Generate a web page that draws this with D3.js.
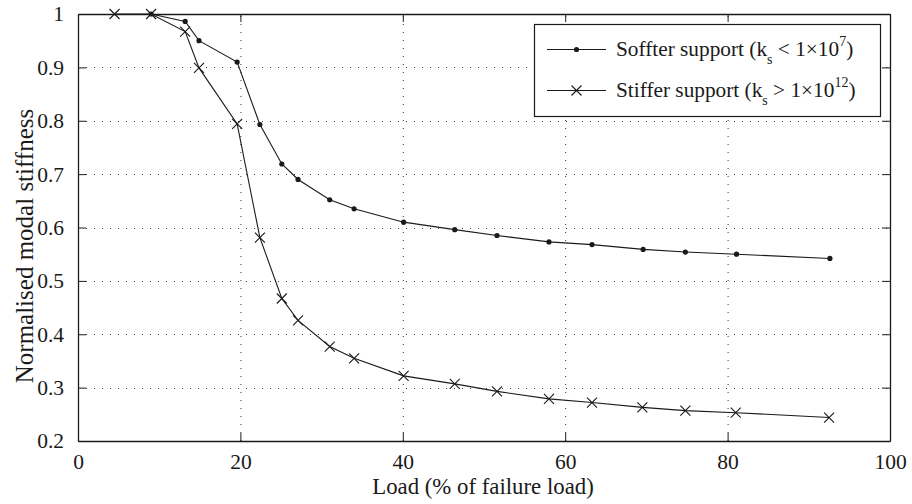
<!DOCTYPE html>
<html>
<head>
<meta charset="utf-8">
<script src="https://cdn.jsdelivr.net/npm/d3@7"></script>
<style>
  html, body { margin: 0; padding: 0; background: #fff; }
  svg { display: block; }
</style>
</head>
<body>
<svg id="chart" width="912" height="504" font-family="Liberation Serif"></svg>
<script>
// Load levels (% of failure load) and normalised modal stiffness for each support case
const softLoad = [9.0, 13.2, 14.9, 19.6, 22.4, 25.1, 27.1, 31.0, 34.0, 40.1, 46.4, 51.6, 58.0, 63.3, 69.6, 74.8, 81.1, 92.6];
const softStiffness = [1.0, 0.986, 0.950, 0.910, 0.793, 0.719, 0.690, 0.652, 0.635, 0.610, 0.596, 0.585, 0.573, 0.568, 0.559, 0.554, 0.550, 0.542];

const stiffLoad = [4.5, 9.0, 13.2, 14.9, 19.6, 22.4, 25.1, 27.1, 31.0, 34.0, 40.1, 46.4, 51.6, 58.0, 63.3, 69.5, 74.8, 81.0, 92.5];
const stiffStiffness = [1.0, 1.0, 0.967, 0.899, 0.794, 0.581, 0.467, 0.426, 0.377, 0.355, 0.322, 0.307, 0.293, 0.279, 0.272, 0.263, 0.257, 0.253, 0.244];

const xTicks = [0, 20, 40, 60, 80, 100];
const yTicks = [0.2, 0.3, 0.4, 0.5, 0.6, 0.7, 0.8, 0.9, 1];

const xLabel = "Load (% of failure load)";
const yLabel = "Normalised modal stiffness";

const FONT = "Liberation Serif";
const svg = d3.select("#chart");
const plotL = 78, plotR = 890, plotT = 14, plotB = 441;
const ink = "#1a1a1a";

const x = d3.scaleLinear().domain([0, 100]).range([plotL, plotR]);
const y = d3.scaleLinear().domain([0.2, 1]).range([plotB, plotT]);

// dotted grid
const grid = svg.append("g").attr("stroke", "#333").attr("stroke-width", 1)
  .attr("stroke-dasharray", "1,7");
grid.selectAll("line.v").data(xTicks.slice(1, -1)).join("line")
  .attr("x1", d => x(d) + 0.5).attr("x2", d => x(d) + 0.5)
  .attr("y1", plotB).attr("y2", plotT);
grid.selectAll("line.h").data(yTicks.slice(1, -1)).join("line")
  .attr("x1", plotL).attr("x2", plotR)
  .attr("y1", d => Math.round(y(d)) + 0.5).attr("y2", d => Math.round(y(d)) + 0.5);

// axes with inward ticks on all four sides
const fmt = d => d3.format("~g")(d);
const tickLen = 8;
const xb = svg.append("g").attr("transform", `translate(0,${plotB})`)
  .call(d3.axisBottom(x).tickValues(xTicks).tickFormat(fmt).tickSizeInner(-tickLen).tickSizeOuter(0).tickPadding(13));
const xt = svg.append("g").attr("transform", `translate(0,${plotT})`)
  .call(d3.axisTop(x).tickValues(xTicks).tickFormat("").tickSizeInner(-tickLen).tickSizeOuter(0));
const yl = svg.append("g").attr("transform", `translate(${plotL},0)`)
  .call(d3.axisLeft(y).tickValues(yTicks).tickFormat(fmt).tickSizeInner(-tickLen).tickSizeOuter(0).tickPadding(14));
const yr = svg.append("g").attr("transform", `translate(${plotR},0)`)
  .call(d3.axisRight(y).tickValues(yTicks).tickFormat("").tickSizeInner(-tickLen).tickSizeOuter(0));

[xb, xt, yl, yr].forEach(g => {
  g.attr("font-family", FONT);
  g.select(".domain").attr("stroke", ink).attr("stroke-width", 1.3);
  g.selectAll(".tick line").attr("stroke", ink).attr("stroke-width", 1);
  g.selectAll("text").attr("font-family", FONT).attr("font-size", 21.5).attr("fill", ink);
});
xb.selectAll(".tick text").attr("dy", "0.71em");

// series lines
const line = d3.line().x(d => x(d[0])).y(d => y(d[1]));
const softPts = softLoad.map((v, i) => [v, softStiffness[i]]);
const stiffPts = stiffLoad.map((v, i) => [v, stiffStiffness[i]]);

svg.append("path").datum(softPts).attr("d", line)
  .attr("fill", "none").attr("stroke", ink).attr("stroke-width", 1.1);
svg.append("path").datum(stiffPts).attr("d", line)
  .attr("fill", "none").attr("stroke", ink).attr("stroke-width", 1.1);

// markers
svg.append("g").selectAll("circle").data(softPts).join("circle")
  .attr("cx", d => x(d[0])).attr("cy", d => y(d[1])).attr("r", 2.6).attr("fill", ink);

const crossPath = (cx, cy, s) => `M${cx - s},${cy - s}L${cx + s},${cy + s}M${cx - s},${cy + s}L${cx + s},${cy - s}`;
svg.append("g").selectAll("path").data(stiffPts).join("path")
  .attr("d", d => crossPath(x(d[0]), y(d[1]), 5))
  .attr("stroke", ink).attr("stroke-width", 1.1).attr("fill", "none");

// axis titles
svg.append("text").attr("x", (plotL + plotR) / 2 - 1).attr("y", 494)
  .attr("text-anchor", "middle").attr("font-family", FONT).attr("font-size", 22.8)
  .attr("fill", ink).text(xLabel);
svg.append("text").attr("transform", `translate(33,246) rotate(-90)`)
  .attr("text-anchor", "middle").attr("font-family", FONT).attr("font-size", 25)
  .attr("fill", ink).text(yLabel);

// legend
const lg = svg.append("g");
lg.append("rect").attr("x", 534.5).attr("y", 24.5).attr("width", 346).attr("height", 92)
  .attr("fill", "#fff").attr("stroke", ink).attr("stroke-width", 1.2);

const legendRows = [
  { y: 49.5, label: "Soffter support (k", sub: "s", mid: " < 1×10", sup: "7", marker: "dot" },
  { y: 90.5, label: "Stiffer support (k", sub: "s", mid: " > 1×10", sup: "12", marker: "cross" }
];
legendRows.forEach(r => {
  lg.append("line").attr("x1", 547).attr("x2", 606).attr("y1", r.y).attr("y2", r.y)
    .attr("stroke", ink).attr("stroke-width", 1.1);
  if (r.marker === "dot") {
    lg.append("circle").attr("cx", 576.5).attr("cy", r.y).attr("r", 2.6).attr("fill", ink);
  } else {
    lg.append("path").attr("d", crossPath(576.5, r.y, 5)).attr("stroke", ink).attr("stroke-width", 1.1);
  }
  const t = lg.append("text").attr("x", 616).attr("y", r.y + 6)
    .attr("font-family", FONT).attr("font-size", 21.3).attr("fill", ink);
  t.append("tspan").text(r.label);
  t.append("tspan").attr("dy", 8).attr("font-size", 14).text(r.sub);
  t.append("tspan").attr("dy", -8).text(r.mid);
  t.append("tspan").attr("dy", -10).attr("font-size", 14).text(r.sup);
  t.append("tspan").attr("dy", 10).text(")");
});
</script>
</body>
</html>
